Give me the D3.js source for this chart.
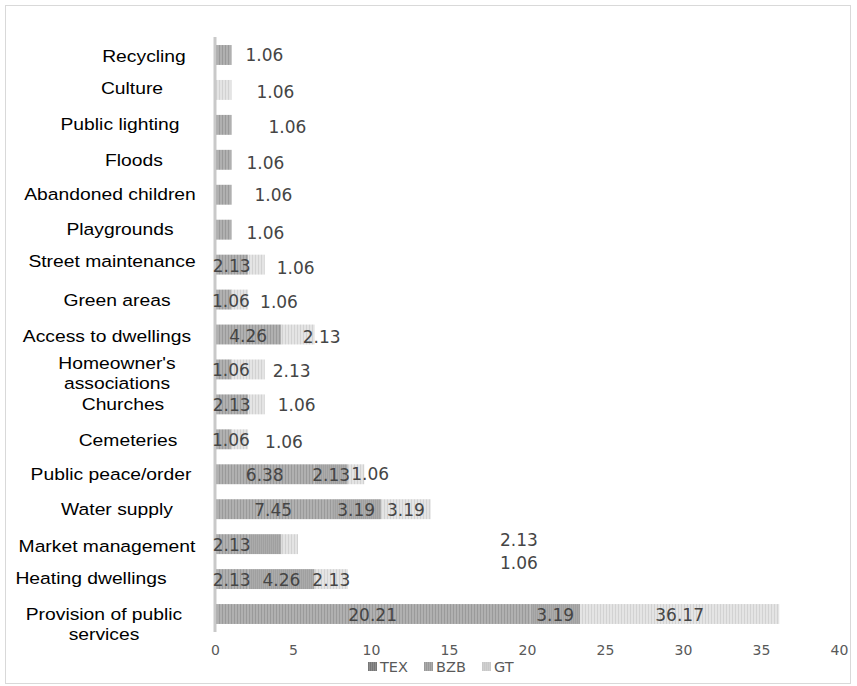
<!DOCTYPE html>
<html><head><meta charset="utf-8">
<script src="https://cdn.jsdelivr.net/npm/d3@7"></script>
<style>
html,body{margin:0;padding:0;background:#fff;}
svg{display:block;}
</style></head>
<body>
<svg id="chart" width="857" height="686"></svg>
<script>
// ---- data ----
const categories = ["Recycling","Culture","Public lighting","Floods","Abandoned children","Playgrounds",
  "Street maintenance","Green areas","Access to dwellings","Homeowner's associations","Churches","Cemeteries",
  "Public peace/order","Water supply","Market management","Heating dwellings","Provision of public services"];
const seriesNames = ["TEX","BZB","GT"];
const TEX = [1.06,0,1.06,1.06,1.06,1.06, 2.13,1.06,4.26,1.06,2.13,1.06, 6.38,7.45,2.13,2.13,20.21];
const BZB = [0,0,0,0,0,0, 0,0,0,0,0,0, 2.13,3.19,2.13,4.26,3.19];
const GT  = [0,1.06,0,0,0,0, 1.06,1.06,2.13,2.13,1.06,1.06, 1.06,3.19,1.06,2.13,12.77];
// printed data labels (as they appear on the chart)
const GTLabels = ["","1.06","","","","", "1.06","1.06","2.13","2.13","1.06","1.06", "1.06","3.19","1.06","2.13","36.17"];
const xTicks = [0,5,10,15,20,25,30,35,40];

// ---- label placement (layout only) ----
// labels drawn outside the bar end: [dx from bar end, dy]
const outsideLabels = {
  "Recycling|TEX":[14,0], "Culture|GT":[25,2], "Public lighting|TEX":[37,2], "Floods|TEX":[15,3],
  "Abandoned children|TEX":[23,0], "Playgrounds|TEX":[15,3], "Street maintenance|GT":[12,3],
  "Green areas|GT":[12,2], "Access to dwellings|GT":[-12,2], "Homeowner's associations|GT":[8,2],
  "Churches|GT":[13,1], "Cemeteries|GT":[17,3], "Public peace/order|GT":[-13,0],
  "Market management|BZB":[202,-4], "Market management|GT":[202,19]
};
// category label placement: [centre x, dy]
const catLabelPos = {
  "Recycling":[144,2], "Culture":[132,-1], "Public lighting":[120,0], "Floods":[134,1],
  "Abandoned children":[110,0], "Playgrounds":[120,0], "Street maintenance":[112,-3],
  "Green areas":[117,1], "Access to dwellings":[107,2], "Homeowner's associations":[117,4],
  "Churches":[123,0], "Cemeteries":[128,1], "Public peace/order":[111,0], "Water supply":[117,0],
  "Market management":[107,2], "Heating dwellings":[91,-1], "Provision of public services":[104,10]
};

const svg = d3.select("#chart");
// frame
svg.append("rect").attr("x",5.5).attr("y",5.5).attr("width",845).attr("height",678)
  .attr("fill","#fff").attr("stroke","#d9d9d9").attr("stroke-width",1);

// patterns
const defs = svg.append("defs");
function stripePattern(id, base, stripe, w){
  const p = defs.append("pattern").attr("id",id).attr("patternUnits","userSpaceOnUse")
    .attr("width",w).attr("height",4);
  p.append("rect").attr("width",w).attr("height",4).attr("fill",base);
  p.append("rect").attr("width",1).attr("height",4).attr("fill",stripe);
}
stripePattern("pTEX","#b0b0b0","#9a9a9a",3);
stripePattern("pBZB","#a0a0a0","#ababab",2);
stripePattern("pGT","#e4e4e4","#d2d2d2",3);
stripePattern("lTEX","#8c8c8c","#777",2);
stripePattern("lBZB","#ababab","#999",2);
stripePattern("lGT","#d0d0d0","#c8c8c8",2);

const x = d3.scaleLinear().domain([0,40]).range([215,839]);
const y = d3.scaleBand().domain(categories).range([37,632]).paddingInner(0.43).paddingOuter(0.23);

const rows = categories.map((c,i)=>({cat:c, vals:[TEX[i],BZB[i],GT[i]], gtLabel:GTLabels[i]}));
const segs = [];
rows.forEach(r=>{
  let acc=0;
  r.vals.forEach((v,k)=>{
    if(v>0){
      const label = k===2 ? r.gtLabel : d3.format(".2f")(v);
      segs.push({cat:r.cat, s:seriesNames[k], k, x0:acc, x1:acc+v, label, end:d3.sum(r.vals)});
    }
    acc+=v;
  });
});

const fills = ["url(#pTEX)","url(#pBZB)","url(#pGT)"];
svg.append("g").selectAll("rect").data(segs).join("rect")
  .attr("x",d=>x(d.x0)).attr("width",d=>x(d.x1)-x(d.x0))
  .attr("y",d=>y(d.cat)).attr("height",y.bandwidth())
  .attr("fill",d=>fills[d.k]);

// vertical axis line
svg.append("line").attr("x1",x(0)).attr("x2",x(0)).attr("y1",37).attr("y2",632)
  .attr("stroke","#c9c9c9").attr("stroke-width",3);

// value labels
svg.append("g").selectAll("text").data(segs).join("text")
  .attr("font-family","DejaVu Sans").attr("font-size",17).attr("fill","#454545")
  .attr("dominant-baseline","central")
  .each(function(d){
    const key = d.cat+"|"+d.s;
    const t = d3.select(this).text(d.label);
    if(outsideLabels[key]){
      const [dx,dy] = outsideLabels[key];
      t.attr("text-anchor","start").attr("x",x(d.end)+dx).attr("y",y(d.cat)+y.bandwidth()/2+dy);
    } else {
      const w = this.getComputedTextLength();
      const cx = Math.max((x(d.x0)+x(d.x1))/2, x(0)-3+w/2);
      t.attr("text-anchor","middle").attr("x",cx).attr("y",y(d.cat)+y.bandwidth()/2+1);
    }
  });

// category labels
const catG = svg.append("g").attr("font-family","Liberation Sans, Arial, sans-serif").attr("font-size",16.5).attr("fill","#000");
const wrap = {"Homeowner's associations":["Homeowner's","associations"],"Provision of public services":["Provision of public","services"]};
categories.forEach(c=>{
  const lines = wrap[c] || [c];
  const [cx, dy] = catLabelPos[c];
  const cy = y(c)+y.bandwidth()/2 + dy;
  const t = catG.append("text").attr("text-anchor","middle")
    .attr("transform",`translate(${cx},0) scale(1.17,1) translate(${-cx},0)`);
  lines.forEach((ln,i)=>{
    t.append("tspan").attr("x",cx).attr("y",cy + (i-(lines.length-1)/2)*20)
      .attr("dominant-baseline","central").text(ln);
  });
});

// x axis
const ax = svg.append("g").attr("transform","translate(0,645)")
  .call(d3.axisBottom(x).tickValues(xTicks).tickSize(0).tickPadding(0).tickFormat(d3.format("d")));
ax.select(".domain").remove();
ax.selectAll("text").attr("font-family","DejaVu Sans").attr("font-size",14).attr("fill","#595959");

// legend
const leg = svg.append("g").attr("font-family","DejaVu Sans").attr("font-size",14.5).attr("fill","#595959");
const legX = [368,424,482];
seriesNames.forEach((s,i)=>{
  leg.append("rect").attr("x",legX[i]).attr("y",662).attr("width",9).attr("height",9).attr("fill",["url(#lTEX)","url(#lBZB)","url(#lGT)"][i]);
  leg.append("text").attr("x",legX[i]+12).attr("y",667).attr("dominant-baseline","central").text(s);
});
</script>
</body></html>
